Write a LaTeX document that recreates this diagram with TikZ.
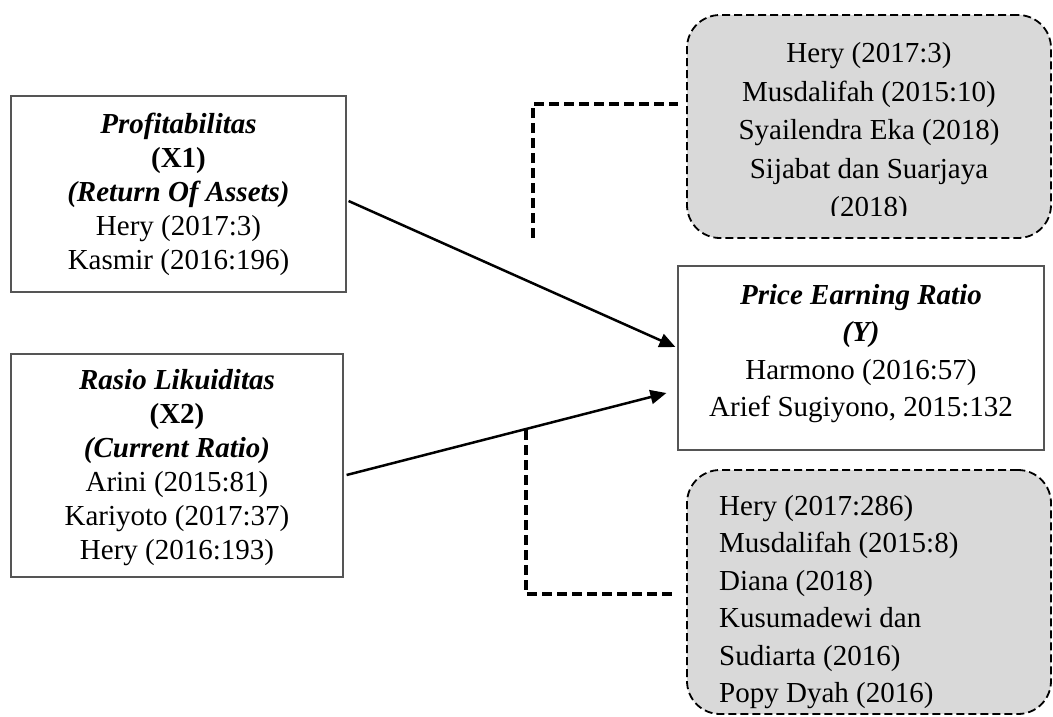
\documentclass[tikz,border=0pt]{standalone}
\usepackage{fontspec}
\setmainfont{Liberation Serif}
\usetikzlibrary{arrows.meta,calc}
\definecolor{boxgray}{HTML}{D9D9D9}
\definecolor{edgegray}{HTML}{555555}
\begin{document}
\begin{tikzpicture}[x=1pt,y=-1pt,
  plainbox/.style={draw=edgegray,line width=1.2pt,rectangle,inner sep=0pt},
  refbox/.style={draw=black,line width=1.8pt,dash pattern=on 8pt off 4pt,fill=boxgray,rounded corners=33pt,inner sep=0pt},
  lefttext/.style={font=\fontsize{29}{34}\selectfont,align=center,inner sep=0pt},
  righttext/.style={font=\fontsize{29}{37.5}\selectfont,inner sep=0pt},
  toptext/.style={font=\fontsize{29}{38.5}\selectfont,inner sep=0pt},
  arrowline/.style={line width=2.5pt,-{Triangle[length=16pt,width=14pt]}},
  dashline/.style={line width=4pt,dash pattern=on 10pt off 5pt}]
\useasboundingbox (0,0) rectangle (1053,716);

% left boxes
\node[plainbox,minimum width=335pt,minimum height=196pt] (x1) at (178.5,194) {};
\node[lefttext] (x1t) at (178.5,194.5) {\textbf{\textit{Profitabilitas}}\\\textbf{(X1)}\\\textbf{\textit{(Return Of Assets)}}\\Hery (2017:3)\\Kasmir (2016:196)};
\node[plainbox,minimum width=332pt,minimum height=223pt] (x2) at (177,465.5) {};
\node[lefttext] (x2t) at (177,467.5) {\textbf{\textit{Rasio Likuiditas}}\\\textbf{(X2)}\\\textbf{\textit{(Current Ratio)}}\\Arini (2015:81)\\Kariyoto (2017:37)\\Hery (2016:193)};

% Y box
\node[plainbox,minimum width=366pt,minimum height=184pt] (yb) at (861,358) {};
\node[righttext,align=center] (yt) at (861,353.5) {\textbf{\textit{Price Earning Ratio}}\\\textbf{\textit{(Y)}}\\Harmono (2016:57)\\Arief Sugiyono, 2015:132};

% top reference box
\node[refbox,minimum width=364pt,minimum height=223pt] (tg) at (869,126.5) {};
\begin{scope}
\clip (690,18) rectangle (1050,215);
\node[toptext,align=center] (tgt) at (869,133) {Hery (2017:3)\\Musdalifah (2015:10)\\Syailendra Eka (2018)\\Sijabat dan Suarjaya\\(2018)};
\end{scope}

% bottom reference box
\node[refbox,minimum width=364pt,minimum height=244pt] (bg) at (869,592) {};
\node[righttext,align=left,anchor=west] (bgt) at (719,602) {Hery (2017:286)\\Musdalifah (2015:8)\\Diana (2018)\\Kusumadewi dan\\Sudiarta (2016)\\Popy Dyah (2016)};

% arrows
\draw[arrowline] ([xshift=2pt,yshift=-7pt]x1.east) -- ([xshift=-2pt,yshift=11pt]yb.west);
\draw[arrowline] ([xshift=3pt,yshift=-9.5pt]x2.east) -- ([xshift=-11pt,yshift=-35pt]yb.west);

% dashed connectors
\coordinate (d1a) at (533,238);
\coordinate (d1b) at (533,104);
\coordinate (d1c) at (678,104);
\draw[dashline] (d1a) -- (d1b) -- (d1c);
\coordinate (d2a) at (526,430);
\coordinate (d2b) at (526,594);
\coordinate (d2c) at (672,594);
\draw[dashline] (d2a) -- (d2b) -- (d2c);
\end{tikzpicture}
\end{document}
